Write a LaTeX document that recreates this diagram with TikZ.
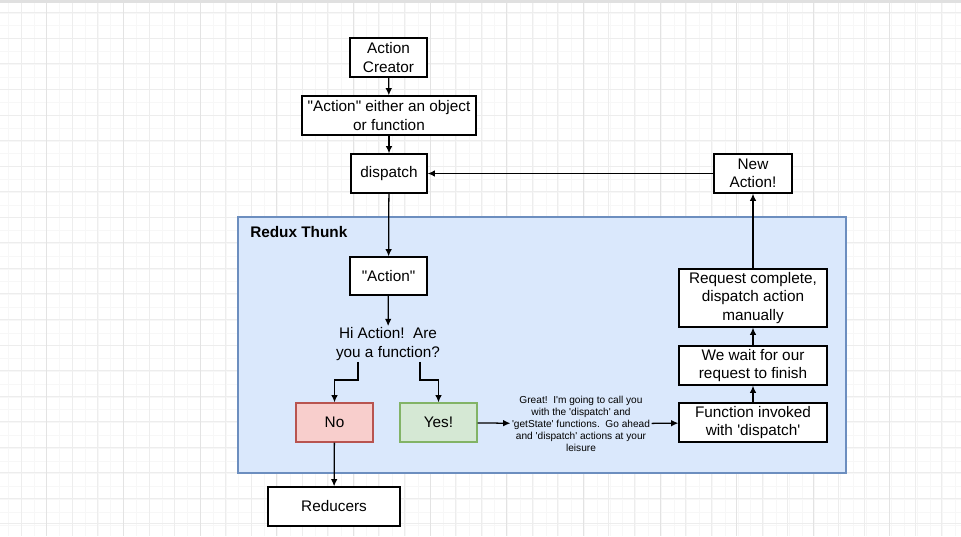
\documentclass[tikz,border=0pt]{standalone}
\usepackage{fontspec}
\setmainfont{Liberation Sans}
\usetikzlibrary{positioning,arrows.meta,calc}
\definecolor{thunkfill}{HTML}{DAE8FC}
\definecolor{thunkline}{HTML}{6C8EBF}
\definecolor{nofill}{HTML}{F8CECC}
\definecolor{noline}{HTML}{B85450}
\definecolor{yesfill}{HTML}{D5E8D4}
\definecolor{yesline}{HTML}{82B366}
\newcommand\tq{\textquotesingle}
\newcommand\dq{\textquotedbl}

\begin{document}
\begin{tikzpicture}[
  x=0.75pt,y=-0.75pt,
  every node/.style={font=\fontsize{11.5}{13.7}\selectfont},
  box/.style={draw,line width=0.95pt,fill=white,align=center,inner sep=1pt,minimum height=29.25pt},
  arr/.style={-{Latex[length=5.5pt,width=5pt]},line width=0.95pt},
  note/.style={align=center,inner sep=1pt,font=\fontsize{7.6}{9}\selectfont}
  ]
  \useasboundingbox (0,0) rectangle (961,536);
  \fill[white] (0,0) rectangle (961,536);
  \foreach \gx in {8.3,21.1,...,961} \draw[black!3,line width=0.4pt] (\gx,0) -- (\gx,536);
  \foreach \gy in {0,12.8,...,536} \draw[black!3,line width=0.4pt] (0,\gy) -- (961,\gy);
  \foreach \gx in {21.1,46.65,...,961} \draw[black!7,line width=0.5pt] (\gx,0) -- (\gx,536);
  \foreach \gy in {12.7,38.25,...,536} \draw[black!7,line width=0.5pt] (0,\gy) -- (961,\gy);
  \foreach \gx in {46.7,123.35,...,961} \draw[black!11,line width=0.6pt] (\gx,0) -- (\gx,536);
  \fill[black!12] (0,0) rectangle (961,3);

  \node[draw=thunkline,fill=thunkfill,line width=0.9pt,minimum width=456pt,minimum height=192pt] (thunk) at (542,345) {};
  \node[anchor=west,inner sep=0pt,font=\fontsize{11.5}{13.7}\selectfont\bfseries] (thunklabel) at (250,232) {Redux Thunk};

  \node[box,minimum width=57.75pt] (creator) at (388.5,57.5) {Action\\Creator};
  \node[box,minimum width=130.5pt] (either) at (389,115.5) {\dq Action\dq{} either an object\\or function};
  \node[box,minimum width=57pt] (dispatch) at (389,173.5) {dispatch};
  \node[box,minimum width=57.75pt,minimum height=28.5pt] (action) at (388.5,276) {\dq Action\dq};
  \node[align=center,inner sep=1pt] (question) at (388,344) {Hi Action!\ \ Are\\you a function?};
  \node[box,draw=noline,fill=nofill,minimum width=57.75pt] (no) at (334.5,422.5) {No};
  \node[box,draw=yesline,fill=yesfill,minimum width=57.75pt] (yes) at (438.5,422.5) {Yes!};
  \node[box,minimum width=99pt] (reducers) at (334,506.5) {Reducers};
  \node[note] (great) at (581,424) {Great!\ \ I\tq m going to call you\\with the \tq dispatch\tq{} and\\\tq getState\tq{} functions.\ \ Go ahead\\and \tq dispatch\tq{} actions at your\\leisure};
  \node[box,minimum width=111pt] (invoked) at (753,422.5) {Function invoked\\with \tq dispatch\tq};
  \node[box,minimum width=111pt] (wait) at (753,365.5) {We wait for our\\request to finish};
  \node[box,minimum width=111pt,minimum height=43.5pt] (request) at (753,298) {Request complete,\\dispatch action\\manually};
  \node[box,minimum width=58.5pt] (newaction) at (753,173.5) {New\\Action!};

  \draw[arr] (creator) -- (either);
  \draw[arr] (either) -- (dispatch);
  \draw[arr] (dispatch) -- (action);
  \draw[arr] (action) -- (question);
  \draw[arr] ($(question.south)+(-30,0)$) -- ++(0,18) -| (no.north);
  \draw[arr] ($(question.south)+(32,0)$) -- ++(0,18) -| (yes.north);
  \draw[arr] (no) -- (reducers);
  \draw[arr] (yes) -- (great);
  \draw[arr] (great) -- (invoked);
  \draw[arr] (invoked) -- (wait);
  \draw[arr] (wait) -- (request);
  \draw[arr] (request) -- (newaction);
  \draw[arr] (newaction) -- (dispatch);
\end{tikzpicture}
\end{document}
